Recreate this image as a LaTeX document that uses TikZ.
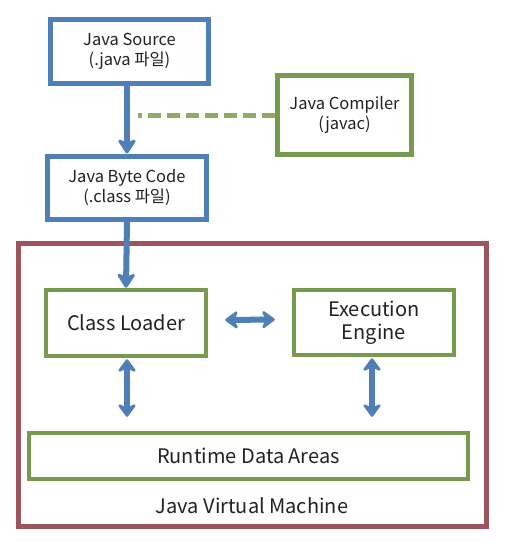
\documentclass[tikz,border=0pt]{standalone}
\usepackage{fontspec}
\newfontfamily\krfont{Noto Sans CJK KR}
\usetikzlibrary{arrows.meta,calc}
\definecolor{boxblue}{HTML}{4F7FB8}
\definecolor{boxgreen}{HTML}{789A4E}
\definecolor{dashgreen}{HTML}{8FAA62}
\definecolor{jvmred}{HTML}{9E545C}
\definecolor{txt}{HTML}{222222}
\tikzset{
  smallfont/.style={font=\krfont\fontsize{16.5}{20}\selectfont},
  bigfont/.style={font=\krfont\fontsize{20}{22.5}\selectfont},
  bluebox/.style={draw=boxblue,line width=5pt,fill=white,align=center,smallfont,text=txt,inner sep=0pt},
  greenbox/.style={draw=boxgreen,line width=4.5pt,fill=white,align=center,bigfont,text=txt,inner sep=0pt},
  conn/.style={draw=boxblue,line width=6pt},
  headone/.style={-{Stealth[length=17pt,width=22pt,inset=5pt,round]}},
  headtwo/.style={{Stealth[length=15pt,width=22pt,inset=5pt,round]}-{Stealth[length=15pt,width=22pt,inset=5pt,round]}},
}
\begin{document}
\begin{tikzpicture}[x=1pt,y=-1pt]
\useasboundingbox[fill=white] (0,0) rectangle (506,543);
% JVM
\node[draw=jvmred,line width=5pt,minimum width=468pt,minimum height=283pt,inner sep=0pt] (jvm) at (252.5,385) {};
\node[bigfont,text=txt] (jvmlabel) at (252,506) {Java Virtual Machine};
% top boxes
\node[bluebox,minimum width=158pt,minimum height=64pt] (src) at (129.5,51.5) {Java Source\\(.java 파일)};
\node[bluebox,minimum width=159pt,minimum height=63pt] (bc) at (127,187.5) {Java Byte Code\\(.class 파일)};
\node[greenbox,smallfont,minimum width=134pt,minimum height=79pt] (jc) at (344.5,115) {Java Compiler\\(javac)};
% inner boxes
\node[greenbox,minimum width=160pt,minimum height=66pt] (cl) at (126,323) {Class Loader};
\node[greenbox,minimum width=160pt,minimum height=65pt] (ee) at (374,322.5) {Execution\\Engine};
\node[greenbox,minimum width=439pt,minimum height=46pt] (rt) at (248.5,456) {Runtime Data Areas};
% connectors
\coordinate (dashend) at (138,115);
\draw[dashgreen,line width=5pt,dash pattern=on 13pt off 6pt] (jc.west) -- (dashend);
\draw[conn,headone] (bc.north |- src.south) -- (bc.north);
\draw[conn,headone] (bc.south) -- (cl.north);
\draw[conn,headtwo] ($(cl.east)+(17,-3)$) -- ($(ee.west)+(-17,-3)$);
\draw[conn,headtwo] ($(cl.south)+(1,1)$) -- ($(cl.south |- rt.north)+(1,-14)$);
\draw[conn,headtwo] ($(ee.south)+(-2,1)$) -- ($(ee.south |- rt.north)+(-2,-14)$);
\end{tikzpicture}
\end{document}
